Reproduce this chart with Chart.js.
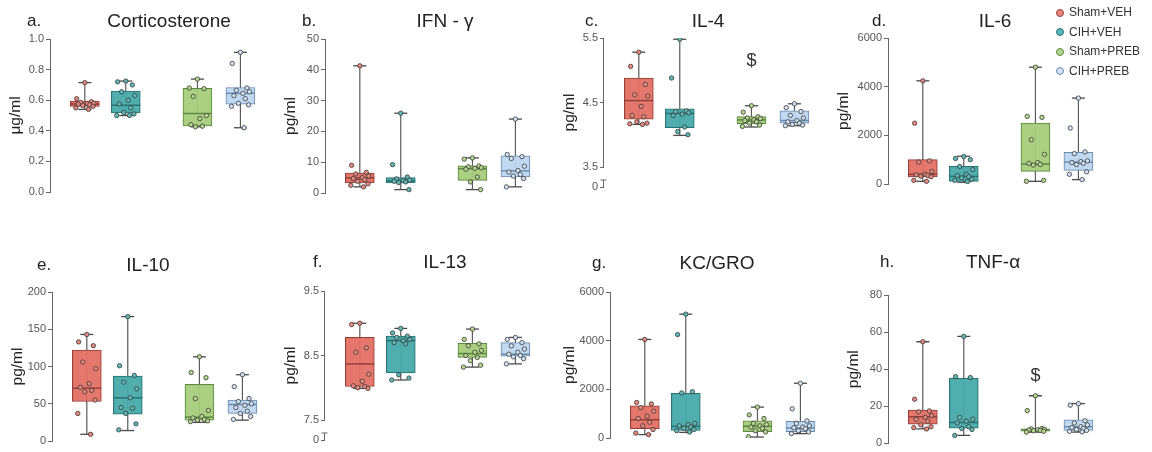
<!DOCTYPE html>
<html>
<head>
<meta charset="utf-8">
<script src="https://cdn.jsdelivr.net/npm/chart.js@4.4.0/dist/chart.umd.min.js"></script>
<style>
  body { margin: 0; background: #fff; }
  #page { position: relative; width: 1152px; height: 452px; overflow: hidden;
          font-family: "Liberation Sans", Arial, sans-serif; color: #222; }
  canvas { position: absolute; }
  .ttl { position: absolute; font-size: 19px; transform: translate(-50%, -50%); white-space: nowrap; }
  .let { position: absolute; font-size: 17px; transform: translateY(-50%); }
  .leg { position: absolute; left: 1056px; font-size: 12px; color: #333; }
  .leg div { height: 19.5px; line-height: 19.5px; white-space: nowrap; }
  .leg span { display: inline-block; width: 8px; height: 8px; border-radius: 50%;
              margin-right: 5px; vertical-align: -0.5px; box-sizing: border-box; }
</style>
</head>
<body>
<div id="page"></div>
<script>
/* ---------- DATA ---------- */
const groups = ['Sham+VEH', 'CIH+VEH', 'Sham+PREB', 'CIH+PREB'];

// box summaries per group: [min, q1, median, q3, max]
const cortBox = [[0.54, 0.56, 0.575, 0.595, 0.715], [0.50, 0.517, 0.567, 0.66, 0.725],
                 [0.426, 0.432, 0.513, 0.677, 0.738], [0.42, 0.574, 0.645, 0.683, 0.913]];
const cortPts = [[0.715, 0.61, 0.59, 0.585, 0.58, 0.578, 0.575, 0.57, 0.565, 0.56, 0.55, 0.54],
                 [0.725, 0.72, 0.70, 0.655, 0.63, 0.60, 0.575, 0.55, 0.52, 0.51, 0.50, 0.50],
                 [0.738, 0.68, 0.675, 0.625, 0.50, 0.48, 0.44, 0.43, 0.426],
                 [0.913, 0.84, 0.68, 0.665, 0.655, 0.645, 0.63, 0.61, 0.58, 0.57, 0.56, 0.42]];
const cortTicks = [0, 0.2, 0.4, 0.6, 0.8, 1.0];

const ifnBox = [[2.0, 3.3, 4.9, 6.5, 41.3], [1.1, 3.3, 3.9, 5.0, 25.9],
                [1.1, 4.1, 7.9, 8.8, 11.4], [2.0, 5.2, 7.2, 12.1, 24.0]];
const ifnPts = [[41.3, 9.0, 6.7, 6.2, 5.5, 5.0, 4.7, 4.3, 3.8, 3.0, 2.5, 2.0],
                [25.9, 9.2, 5.2, 4.6, 4.2, 4.0, 3.8, 3.6, 3.4, 1.1],
                [11.4, 11.0, 8.8, 8.5, 8.2, 8.0, 7.7, 5.2, 3.6, 1.1],
                [24.0, 12.5, 11.8, 11.2, 8.7, 7.3, 6.8, 6.0, 5.5, 4.7, 2.0]];
const ifnTicks = [0, 10, 20, 30, 40, 50];

const il4Box = [[4.16, 4.24, 4.53, 4.88, 5.28], [3.99, 4.11, 4.33, 4.40, 5.48],
                [4.12, 4.17, 4.23, 4.28, 4.45], [4.14, 4.18, 4.22, 4.37, 4.48]];
const il4Pts = [[5.28, 5.06, 4.78, 4.62, 4.60, 4.44, 4.30, 4.28, 4.20, 4.18, 4.17, 4.16],
                [5.48, 4.88, 4.37, 4.36, 4.34, 4.32, 4.30, 4.12, 4.05, 4.0],
                [4.45, 4.35, 4.28, 4.26, 4.25, 4.23, 4.22, 4.20, 4.18, 4.15, 4.13],
                [4.48, 4.42, 4.36, 4.30, 4.26, 4.22, 4.20, 4.18, 4.16, 4.15, 4.14]];
const il4Ticks = [3.5, 4.5, 5.5];

const il6Box = [[110, 290, 400, 1000, 4240], [70, 110, 315, 730, 1140],
                [110, 520, 820, 2500, 4800], [180, 560, 900, 1300, 3530]];
const il6Pts = [[4240, 2500, 950, 900, 520, 400, 380, 350, 320, 300, 150, 110],
                [1130, 1050, 1000, 720, 590, 400, 350, 300, 250, 200, 150, 100],
                [4800, 2780, 2740, 1820, 1220, 880, 850, 800, 780, 150, 110],
                [3530, 2300, 1320, 1250, 950, 920, 880, 850, 800, 500, 400, 180]];
const il6Ticks = [0, 2000, 4000, 6000];

const il10Box = [[9, 53, 71, 122, 143], [14, 36, 58, 87, 167],
                 [25, 28, 32, 76, 113], [28, 37, 49, 55, 89]];
const il10Pts = [[143, 133, 128, 106, 97, 77, 72, 68, 66, 55, 37, 9],
                 [167, 101, 88, 79, 70, 58, 45, 44, 37, 23, 15],
                 [113, 92, 85, 57, 41, 33, 31, 29, 28, 27, 26],
                 [89, 73, 57, 53, 50, 48, 45, 40, 37, 33, 29]];
const il10Ticks = [0, 50, 100, 150, 200];

const il13Box = [[7.99, 8.02, 8.37, 8.78, 9.0], [8.12, 8.23, 8.73, 8.80, 8.92],
                 [8.32, 8.47, 8.53, 8.69, 8.91], [8.37, 8.49, 8.52, 8.70, 8.78]];
const il13Pts = [[9.0, 8.98, 8.62, 8.55, 8.21, 8.10, 8.03, 8.02, 8.0, 7.99],
                 [8.92, 8.85, 8.80, 8.78, 8.75, 8.73, 8.70, 8.68, 8.20, 8.15, 8.12],
                 [8.91, 8.75, 8.68, 8.65, 8.58, 8.55, 8.50, 8.47, 8.42, 8.35, 8.32],
                 [8.78, 8.75, 8.70, 8.65, 8.60, 8.55, 8.52, 8.50, 8.48, 8.45, 8.37]];
const il13Ticks = [7.5, 8.5, 9.5];

const kcBox = [[140, 380, 750, 1320, 4050], [230, 310, 480, 1840, 5090],
               [40, 260, 480, 710, 1270], [180, 260, 410, 680, 2250]];
const kcPts = [[4050, 1460, 1400, 1250, 1100, 900, 800, 650, 500, 350, 200, 140],
               [5090, 4250, 1900, 1850, 600, 550, 500, 450, 400, 350, 300, 250],
               [1270, 950, 800, 600, 550, 500, 450, 400, 300, 250, 50],
               [2250, 1200, 700, 600, 500, 450, 420, 380, 300, 250, 180]];
const kcTicks = [0, 2000, 4000, 6000];

const tnfBox = [[7.8, 10.4, 14.3, 17.9, 54.8], [4.3, 8.2, 11.3, 35.1, 57.7],
                [6.1, 6.6, 7.3, 7.8, 25.7], [6.1, 7.0, 9.0, 12.7, 21.4]];
const tnfPts = [[54.8, 23.8, 17.5, 17, 15, 14, 13, 12, 10, 9, 8.5, 7.8],
                [57.7, 36, 35.5, 14, 13, 12, 11, 9, 8, 7.5, 4.3],
                [25.7, 17.7, 8, 7.8, 7.6, 7.4, 7.2, 7, 6.8, 6.5, 6.1],
                [21.4, 20.6, 12.2, 11, 10, 9, 8.5, 8, 7.5, 7, 6.5, 6.2]];
const tnfTicks = [0, 20, 40, 60, 80];

/* ---------- STYLE ---------- */
const FONT = '"Liberation Sans", Arial, sans-serif';
const groupX = [1, 2, 3.75, 4.8];
const fillColors = ['rgba(228,112,100,0.95)', 'rgba(72,170,170,0.95)', 'rgba(166,206,122,0.95)', 'rgba(190,215,240,0.95)'];
const edgeColors = ['#93403a', '#2a7172', '#5c8843', '#6a8db2'];
const dotColors = ['#e8867b', '#5cb9b8', '#b3d88c', '#cfe1f3'];
// horizontal spread of the dots inside each box
const jitter = [0, -0.2, 0.16, -0.1, 0.22, 0.06, -0.16, 0.12, -0.05, 0.2, -0.22, 0.09];

/* ---------- PLUGIN: broken axis + "$" marks ---------- */
const extras = {
    id: 'extras',
    afterDraw(chart, args, o) {
        const ctx = chart.ctx;
        const y = chart.scales.y;
        const x0 = Math.round(chart.chartArea.left) - 0.5;
        ctx.save();
        if (o.broken) {
            ctx.strokeStyle = '#666';
            ctx.lineWidth = 1;
            ctx.beginPath();
            ctx.moveTo(x0, y.getPixelForValue(o.ticks[o.ticks.length - 1]));
            ctx.lineTo(x0, y.getPixelForValue(o.ticks[0]));
            const z = y.getPixelForValue(y.min);
            ctx.moveTo(x0, z);
            ctx.lineTo(x0, z - 7);
            ctx.moveTo(x0 - 3, z - 7);
            ctx.lineTo(x0 + 3, z - 7);
            ctx.stroke();
        }
        if (o.mark) {
            ctx.fillStyle = '#333';
            ctx.font = '18px ' + FONT;
            ctx.textAlign = 'center';
            ctx.textBaseline = 'middle';
            ctx.fillText('$', chart.scales.x.getPixelForValue(groupX[o.mark.group]), y.getPixelForValue(o.mark.y));
        }
        ctx.restore();
    }
};

/* ---------- PANEL BUILDER ---------- */
const page = document.getElementById('page');

function addText(cls, text, x, y) {
    const d = document.createElement('div');
    d.className = cls;
    d.textContent = text;
    d.style.left = x + 'px';
    d.style.top = y + 'px';
    page.appendChild(d);
}

function makePanel(p) {
    const yW = p.yW || 50;
    const cv = document.createElement('canvas');
    cv.width = yW + 220;
    cv.height = p.h;
    cv.style.left = (p.axis - yW) + 'px';
    cv.style.top = p.top + 'px';
    page.appendChild(cv);

    addText('let', p.letter, p.letterX, p.textY);
    addText('ttl', p.title, p.titleX, p.textY);

    const ticks = p.ticks;
    const broken = !!p.breakBelow;
    const yMin = broken ? ticks[0] - p.breakBelow : ticks[0];
    const datasets = [];

    // whiskers with end caps
    p.box.forEach((b, g) => {
        datasets.push({
            type: 'scatter',
            data: [{x: groupX[g], y: b[0]}, {x: groupX[g], y: b[4]}],
            showLine: true,
            borderColor: '#5a5a5a',
            borderWidth: 1.2,
            pointStyle: 'line',
            pointRadius: 6.5,
            pointBorderColor: '#4a4a4a',
            pointBorderWidth: 1.3,
            order: 4
        });
    });

    // boxes q1..q3
    datasets.push({
        type: 'bar',
        data: groupX.map((x, g) => ({x, y: [p.box[g][1], p.box[g][3]]})),
        backgroundColor: fillColors,
        borderColor: edgeColors,
        borderWidth: 1,
        borderSkipped: false,
        barThickness: 29,
        grouped: false,
        order: 3
    });

    // medians
    datasets.push({
        type: 'scatter',
        data: groupX.map((x, g) => ({x, y: p.box[g][2]})),
        pointStyle: 'line',
        pointRadius: 14.5,
        pointBorderColor: edgeColors,
        pointBorderWidth: 1.5,
        order: 2
    });

    // individual animals
    const dots = [], dotFill = [];
    p.pts.forEach((vals, g) => {
        vals.forEach((v, i) => {
            dots.push({x: groupX[g] + jitter[i % jitter.length], y: v});
            dotFill.push(dotColors[g]);
        });
    });
    datasets.push({
        type: 'scatter',
        data: dots,
        pointRadius: 2.2,
        pointBackgroundColor: dotFill,
        pointBorderColor: '#3a3a3a',
        pointBorderWidth: 0.8,
        order: 1
    });

    return new Chart(cv.getContext('2d'), {
        type: 'bar',
        data: { datasets },
        options: {
            responsive: false,
            animation: false,
            events: [],
            layout: { autoPadding: false, padding: { top: p.padTop, bottom: p.padBottom, left: 0, right: 5 } },
            plugins: {
                legend: { display: false },
                tooltip: { enabled: false },
                extras: { broken, ticks, mark: p.mark }
            },
            scales: {
                x: { type: 'linear', min: 0.15, max: 5.4, offset: false, display: false },
                y: {
                    min: yMin,
                    max: ticks[ticks.length - 1],
                    afterBuildTicks: s => {
                        const t = broken ? [yMin].concat(ticks) : ticks;
                        s.ticks = t.map(v => ({value: v}));
                    },
                    afterFit: s => { s.width = yW; },
                    ticks: {
                        color: '#555',
                        padding: 2,
                        font: { family: FONT, size: 11 },
                        callback: v => (broken && v < ticks[0]) ? '0' : (p.dec ? v.toFixed(p.dec) : String(v))
                    },
                    grid: { drawOnChartArea: false, tickLength: 4, color: '#666' },
                    border: { display: !broken, color: '#666', width: 1 },
                    title: {
                        display: true,
                        text: p.unit,
                        color: '#222',
                        font: { family: FONT, size: 15.5 },
                        padding: { top: 6, bottom: 0 }
                    }
                }
            }
        },
        plugins: [extras]
    });
}

/* ---------- PANELS ---------- */
makePanel({ letter: 'a.', title: 'Corticosterone', unit: 'μg/ml', box: cortBox, pts: cortPts, ticks: cortTicks, dec: 1,
            axis: 50, top: 0, h: 215, padTop: 39, padBottom: 23, letterX: 27, titleX: 169, textY: 21 });
makePanel({ letter: 'b.', title: 'IFN - γ', unit: 'pg/ml', box: ifnBox, pts: ifnPts, ticks: ifnTicks,
            axis: 325, top: 0, h: 215, padTop: 39, padBottom: 22, letterX: 302, titleX: 445, textY: 21 });
makePanel({ letter: 'c.', title: 'IL-4', unit: 'pg/ml', box: il4Box, pts: il4Pts, ticks: il4Ticks, dec: 1, breakBelow: 0.31,
            mark: { group: 2, y: 5.15 },
            axis: 604, top: 0, h: 215, padTop: 38, padBottom: 28, letterX: 585, titleX: 708, textY: 21 });
makePanel({ letter: 'd.', title: 'IL-6', unit: 'pg/ml', box: il6Box, pts: il6Pts, ticks: il6Ticks, yW: 60,
            axis: 888, top: 0, h: 215, padTop: 38, padBottom: 31, letterX: 872, titleX: 995, textY: 21 });
makePanel({ letter: 'e.', title: 'IL-10', unit: 'pg/ml', box: il10Box, pts: il10Pts, ticks: il10Ticks,
            axis: 52, top: 222, h: 230, padTop: 70, padBottom: 11, letterX: 37, titleX: 148, textY: 265 });
makePanel({ letter: 'f.', title: 'IL-13', unit: 'pg/ml', box: il13Box, pts: il13Pts, ticks: il13Ticks, dec: 1, breakBelow: 0.31,
            axis: 325, top: 222, h: 230, padTop: 69, padBottom: 12, letterX: 313, titleX: 445, textY: 262 });
makePanel({ letter: 'g.', title: 'KC/GRO', unit: 'pg/ml', box: kcBox, pts: kcPts, ticks: kcTicks, yW: 56,
            axis: 610, top: 222, h: 230, padTop: 70, padBottom: 14, letterX: 592, titleX: 717, textY: 263 });
makePanel({ letter: 'h.', title: 'TNF-α', unit: 'pg/ml', box: tnfBox, pts: tnfPts, ticks: tnfTicks,
            mark: { group: 2, y: 36.5 },
            axis: 888, top: 222, h: 230, padTop: 73, padBottom: 6, letterX: 880, titleX: 993, textY: 262 });

/* ---------- LEGEND ---------- */
const leg = document.createElement('div');
leg.className = 'leg';
leg.style.top = '3px';
groups.forEach((g, i) => {
    const row = document.createElement('div');
    const dot = document.createElement('span');
    dot.style.background = dotColors[i];
    dot.style.border = '1px solid ' + edgeColors[i];
    row.appendChild(dot);
    row.appendChild(document.createTextNode(g));
    leg.appendChild(row);
});
page.appendChild(leg);
</script>
</body>
</html>
